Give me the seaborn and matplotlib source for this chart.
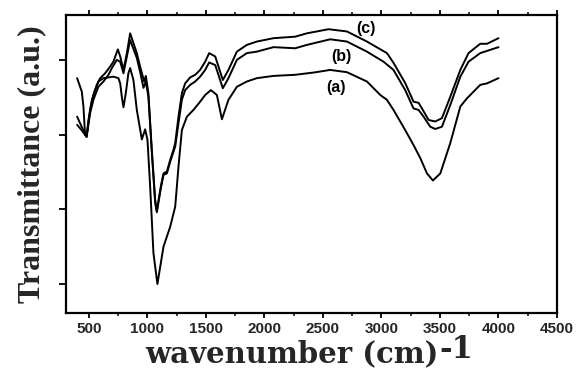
import matplotlib
matplotlib.use("Agg")
import matplotlib.pyplot as plt
from matplotlib.ticker import MultipleLocator
import pandas as pd
import seaborn as sns

# FTIR spectra: wavenumber (cm-1) and transmittance (a.u.) for the three samples
wn_a = [400, 443, 481, 497, 526, 554, 582, 625, 668, 710, 753, 768, 782, 796, 816,
        838, 853, 881, 910, 953, 981, 1001, 1024, 1052, 1086, 1138, 1195, 1238, 1266,
        1295, 1338, 1394, 1451, 1494, 1543, 1594, 1637, 1693, 1765, 1850, 1936, 2078,
        2263, 2420, 2562, 2705, 2876, 2990, 3047, 3103, 3203, 3274, 3332, 3389, 3440,
        3503, 3588, 3674, 3731, 3844, 3902, 4000]
t_a = [62.6, 61.0, 59.4, 63.9, 69.3, 71.9, 74.2, 75.1, 75.3, 75.5, 75.1, 73.7, 70.1,
       67.3, 71.1, 76.4, 77.8, 74.6, 66.6, 58.7, 61.4, 58.6, 46.1, 28.3, 20.0, 30.0,
       35.3, 40.7, 51.4, 61.2, 64.8, 66.6, 68.8, 70.6, 71.9, 70.6, 64.1, 69.3, 72.8,
       74.2, 75.1, 75.7, 76.0, 76.6, 77.3, 76.7, 74.2, 70.6, 69.3, 66.6, 61.2, 57.2,
       53.7, 49.6, 47.7, 49.6, 57.7, 67.5, 69.7, 73.3, 73.7, 75.1]

wn_b = [400, 443, 481, 511, 539, 582, 625, 668, 697, 739, 768, 796, 825, 853, 910,
        938, 967, 987, 1009, 1038, 1067, 1081, 1115, 1138, 1167, 1195, 1223, 1238,
        1266, 1295, 1323, 1366, 1409, 1451, 1494, 1528, 1580, 1645, 1693, 1765, 1850,
        1936, 2078, 2263, 2363, 2562, 2705, 2876, 3018, 3103, 3203, 3274, 3317, 3360,
        3417, 3460, 3517, 3588, 3674, 3744, 3844, 4000]
t_b = [64.8, 61.8, 59.4, 65.7, 69.3, 72.8, 74.2, 76.0, 77.8, 80.0, 79.5, 76.4, 80.9,
       85.3, 80.5, 76.8, 72.5, 74.2, 70.1, 55.4, 41.7, 39.2, 45.6, 49.2, 49.6, 52.7,
       55.4, 56.8, 63.0, 69.3, 71.9, 73.3, 74.2, 75.5, 77.3, 79.3, 78.6, 72.4, 75.1,
       80.0, 81.8, 82.2, 83.4, 83.1, 84.0, 85.5, 84.9, 82.2, 79.5, 77.3, 71.9, 67.0,
       66.6, 64.8, 62.1, 61.5, 62.1, 67.9, 75.5, 79.5, 81.8, 83.4]

wn_c = [400, 440, 454, 468, 481, 511, 539, 568, 597, 639, 682, 710, 748, 768, 796,
        825, 853, 910, 938, 973, 987, 1009, 1038, 1067, 1081, 1115, 1138, 1167, 1195,
        1223, 1238, 1266, 1295, 1323, 1366, 1409, 1451, 1494, 1528, 1580, 1645, 1693,
        1765, 1850, 1936, 2078, 2263, 2363, 2548, 2705, 2876, 3047, 3103, 3203, 3274,
        3317, 3346, 3403, 3460, 3517, 3588, 3674, 3744, 3844, 3902, 4000]
t_c = [75.1, 71.5, 67.5, 59.9, 59.4, 66.6, 70.6, 73.3, 75.1, 76.4, 78.2, 79.5, 82.8,
       80.9, 77.3, 81.8, 87.1, 81.8, 78.2, 74.2, 75.7, 71.1, 55.9, 42.5, 39.6, 46.1,
       49.6, 50.1, 53.2, 55.9, 57.7, 64.8, 71.1, 73.7, 75.3, 76.0, 77.3, 79.5, 81.8,
       80.9, 74.6, 77.3, 82.2, 84.0, 84.9, 85.8, 86.2, 87.1, 88.2, 87.6, 84.9, 81.8,
       79.2, 73.8, 68.8, 68.5, 67.0, 63.9, 63.5, 64.4, 70.1, 77.3, 81.8, 84.3, 84.3,
       85.8]

sample_names = ["(a)", "(b)", "(c)"]
# label anchor (wavenumber, transmittance) for each sample tag
label_wn = [2614, 2656, 2870]
label_t = [72.5, 81.0, 88.3]

xtick_values = [500, 1000, 1500, 2000, 2500, 3000, 3500, 4000, 4500]
xtick_labels = ["500", "1000", "1500", "2000", "2500", "3000", "3500", "4000", "4500"]
ytick_values = [20, 40, 60, 80]

frames = []
for name, wn, t in zip(sample_names, [wn_a, wn_b, wn_c], [t_a, t_b, t_c]):
    frames.append(pd.DataFrame({"wavenumber": wn, "transmittance": t, "sample": name}))
spectra = pd.concat(frames, ignore_index=True)

sns.set_style("ticks")
plt.rcParams["font.family"] = ["Liberation Sans", "DejaVu Sans"]

fig = plt.figure(figsize=(5.81, 3.69), dpi=100)
ax = fig.add_axes([0.1136, 0.1509, 0.8451, 0.8084])

sns.lineplot(data=spectra, x="wavenumber", y="transmittance", units="sample",
             estimator=None, sort=False, color="black", linewidth=1.4,
             legend=False, ax=ax)

for name, x, y in zip(sample_names, label_wn, label_t):
    ax.text(x, y, name, ha="center", va="center", fontsize=11.5,
            fontweight="bold", color="black")

ax.set_xlim(305, 4500)
ax.set_ylim(12.15, 92.0)
ax.set_xticks(xtick_values)
ax.set_xticklabels(xtick_labels, fontweight="bold", fontsize=11)
ax.xaxis.set_minor_locator(MultipleLocator(250))
ax.set_yticks(ytick_values)
ax.tick_params(axis="y", which="both", labelleft=False, left=True, right=False,
               direction="out", length=5, width=1.3, color="black")
ax.tick_params(axis="x", which="major", direction="out", length=3.4, width=1.3,
               top=True, bottom=True, pad=2.5, color="black")
ax.tick_params(axis="x", which="minor", direction="out", length=2.0, width=1.1,
               top=True, bottom=True, color="black")

for spine in ax.spines.values():
    spine.set_visible(True)
    spine.set_linewidth(1.6)
    spine.set_color("black")

ax.set_xlabel("wavenumber (cm)", fontfamily="DejaVu Serif", fontweight="bold",
              fontsize=21)
ax.xaxis.set_label_coords(0.46, -0.088)
ax.annotate("-1", xy=(1.0, 0.0), xycoords=ax.xaxis.label, xytext=(0.8, 7.5),
            textcoords="offset points", ha="left", va="baseline",
            fontfamily="DejaVu Serif", fontweight="bold", fontsize=22)

ax.set_ylabel("Transmittance (a.u.)", fontfamily="Liberation Serif",
              fontweight="bold", fontsize=23)
ax.yaxis.set_label_coords(-0.04, 0.5)

fig.savefig("out.png", dpi=100)
